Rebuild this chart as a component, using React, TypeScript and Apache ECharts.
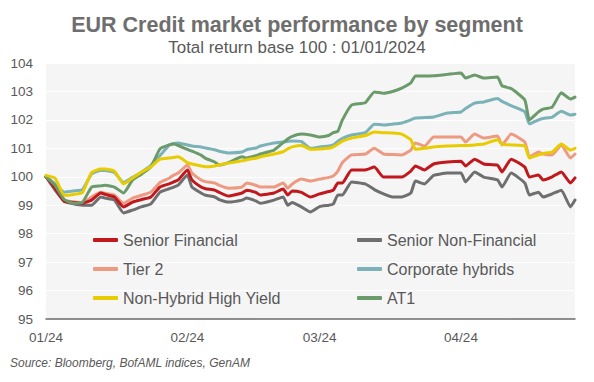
import React, { useEffect, useRef } from "react";
import * as echarts from "echarts";

const dates = [
  "2024-01-01", "2024-01-03", "2024-01-05", "2024-01-07", "2024-01-09", "2024-01-11", "2024-01-13", "2024-01-14", "2024-01-16", "2024-01-18",
  "2024-01-20", "2024-01-22", "2024-01-24", "2024-01-26", "2024-01-28", "2024-01-29", "2024-01-30", "2024-02-01", "2024-02-02", "2024-02-04",
  "2024-02-05", "2024-02-07", "2024-02-08", "2024-02-10", "2024-02-13", "2024-02-14", "2024-02-16", "2024-02-17", "2024-02-20", "2024-02-22",
  "2024-02-23", "2024-02-24", "2024-02-26", "2024-02-28", "2024-03-01", "2024-03-03", "2024-03-04", "2024-03-05", "2024-03-06", "2024-03-08",
  "2024-03-11", "2024-03-13", "2024-03-15", "2024-03-17", "2024-03-19", "2024-03-21", "2024-03-22", "2024-03-24", "2024-03-26", "2024-03-29",
  "2024-04-01", "2024-04-02", "2024-04-04", "2024-04-06", "2024-04-09", "2024-04-10", "2024-04-12", "2024-04-15", "2024-04-16", "2024-04-18",
  "2024-04-19", "2024-04-21", "2024-04-23", "2024-04-25", "2024-04-26",
];

const seniorFinancial = [
  100, 99.6, 99.14, 99.1, 99.07, 99.18, 99.43, 99.38, 99.29, 98.94,
  99.11, 99.2, 99.29, 99.64, 99.75, 99.82, 99.89, 100.24, 99.89, 99.64,
  99.58, 99.53, 99.45, 99.32, 99.43, 99.53, 99.45, 99.36, 99.43, 99.57,
  99.36, 99.5, 99.45, 99.29, 99.4, 99.48, 99.53, 99.78, 99.78, 100.24,
  100.24, 100.34, 99.99, 99.99, 99.99, 100.2, 100.38, 100.24, 100.45, 100.52,
  100.55, 100.38, 100.62, 100.45, 100.41, 100.17, 100.62, 100.34, 99.99, 100.06,
  99.89, 100.0, 100.17, 99.78, 99.96,
];

const seniorNonFinancial = [
  100, 99.53, 99.14, 99.05, 99.0, 99.0, 99.29, 99.25, 99.18, 98.73,
  98.83, 98.95, 99.05, 99.46, 99.58, 99.64, 99.71, 100.06, 99.64, 99.43,
  99.35, 99.29, 99.2, 99.11, 99.18, 99.25, 99.15, 99.07, 99.18, 99.29,
  99.0, 99.1, 98.94, 98.76, 98.95, 99.0, 99.04, 99.36, 99.36, 99.82,
  99.75, 99.55, 99.4, 99.29, 99.29, 99.43, 99.85, 99.75, 100.05, 100.13,
  100.13, 99.82, 100.17, 99.99, 99.89, 99.64, 100.13, 99.78, 99.36, 99.46,
  99.29, 99.4, 99.53, 98.94, 99.18,
];

const tier2 = [
  100, 99.64, 99.19, 99.12, 99.1, 99.29, 99.46, 99.42, 99.36, 99.07,
  99.25, 99.35, 99.46, 99.8, 99.95, 100.06, 100.13, 100.41, 100.13, 99.89,
  99.83, 99.78, 99.7, 99.6, 99.64, 99.78, 99.7, 99.64, 99.64, 99.78,
  99.6, 99.75, 99.92, 99.85, 99.92, 99.98, 100.03, 100.2, 100.5, 100.77,
  100.8, 101.0, 100.8, 100.78, 100.77, 100.94, 101.19, 101.08, 101.4, 101.4,
  101.4, 101.22, 101.5, 101.36, 101.43, 101.12, 101.5, 101.22, 100.7, 100.87,
  100.8, 100.77, 101.12, 100.66, 100.8,
];

const corporateHybrids = [
  100, 99.75, 99.46, 99.5, 99.55, 100.1, 100.22, 100.22, 100.15, 99.8,
  99.98, 100.17, 100.4, 100.75, 101.1, 101.17, 101.19, 101.12, 101.08, 101.05,
  101.01, 100.95, 100.9, 100.84, 100.87, 100.95, 101.01, 101.08, 101.19, 101.22,
  101.24, 101.26, 101.24, 101.0, 101.05, 101.08, 101.12, 101.25, 101.35, 101.47,
  101.55, 101.85, 101.82, 101.85, 101.89, 102.0, 102.07, 102.08, 102.1, 102.24,
  102.28, 102.4, 102.59, 102.63, 102.75, 102.65, 102.5, 102.28, 101.86, 102.0,
  102.05, 102.1, 102.3, 102.17, 102.2,
];

const nonHybridHighYield = [
  100.05, 99.95, 99.35, 99.38, 99.45, 100.15, 100.27, 100.27, 100.2, 99.75,
  99.96, 100.17, 100.35, 100.62, 100.66, 100.68, 100.7, 100.5, 100.45, 100.38,
  100.35, 100.38, 100.42, 100.48, 100.56, 100.6, 100.65, 100.7, 100.8, 100.88,
  100.98, 101.05, 101.1, 100.97, 100.98, 101.0, 101.05, 101.15, 101.25, 101.36,
  101.45, 101.57, 101.55, 101.54, 101.5, 101.3, 100.97, 101.0, 101.05, 101.08,
  101.1, 101.1, 101.12, 101.15, 101.3, 101.15, 101.12, 101.08, 100.66, 100.77,
  100.82, 100.87, 101.15, 100.94, 101.0,
];

const at1 = [
  100, 99.7, 99.2, 99.07, 99.1, 99.64, 99.68, 99.7, 99.64, 99.43,
  99.89, 100.1, 100.35, 100.98, 101.12, 101.15, 101.1, 100.96, 100.9, 100.76,
  100.65, 100.52, 100.41, 100.5, 100.7, 100.66, 100.74, 100.8, 100.94, 101.2,
  101.33, 101.42, 101.5, 101.47, 101.4, 101.45, 101.55, 101.6, 102.0, 102.52,
  102.6, 102.98, 102.94, 103.0, 103.12, 103.3, 103.54, 103.54, 103.55, 103.6,
  103.65, 103.47, 103.58, 103.47, 103.51, 103.2, 103.1, 102.7, 102.0, 102.28,
  102.38, 102.45, 102.95, 102.73, 102.8,
];

const monthTickDates = ["2024-01-01", "2024-02-01", "2024-03-01", "2024-04-01"];
const monthTickLabels = ["01/24", "02/24", "03/24", "04/24"];

const START = Date.parse("2024-01-01T00:00:00Z");
const dayOf = (s: string) => Math.round((Date.parse(s + "T00:00:00Z") - START) / 86400000);

const FONT = "'Liberation Sans', Arial, sans-serif";

export default function App() {
  const ref = useRef<HTMLDivElement>(null);
  useEffect(() => {
    document.body.style.margin = "0";
    if (!ref.current) return;
    const chart = echarts.init(ref.current, undefined, { renderer: "svg" });
    const days = dates.map(dayOf);
    const tickDays = monthTickDates.map(dayOf);
    const mk = (name: string, values: number[], color: string) => ({
      name,
      type: "line",
      data: values.map((v, i) => [days[i], v]),
      showSymbol: false,
      symbol: "none",
      smooth: 0.15,
      lineStyle: { color, width: 3, join: "round", cap: "round" },
      itemStyle: { color },
    });
    const series = [
      mk("Tier 2", tier2, "#ee9a82"),
      mk("Senior Non-Financial", seniorNonFinancial, "#6f6f6f"),
      mk("Senior Financial", seniorFinancial, "#c0181c"),
      mk("Corporate hybrids", corporateHybrids, "#7ab2b7"),
      mk("AT1", at1, "#6b9a6b"),
      mk("Non-Hybrid High Yield", nonHybridHighYield, "#e8cc00"),
    ];
    const legendCommon = {
      orient: "vertical",
      icon: "roundRect",
      itemWidth: 25,
      itemHeight: 4,
      itemGap: 9,
      padding: 0,
      textStyle: { fontFamily: FONT, fontSize: 16, color: "#595959", lineHeight: 20 },
      selectedMode: false,
    };
    chart.setOption({
      animation: false,
      backgroundColor: "#ffffff",
      title: {
        text: "EUR Credit market performance by segment",
        subtext: "Total return base 100 : 01/01/2024",
        left: "center",
        top: 9,
        itemGap: 3,
        textStyle: { fontFamily: FONT, fontSize: 21.5, fontWeight: "bold", color: "#6e6e6e" },
        subtextStyle: { fontFamily: FONT, fontSize: 16.9, color: "#595959" },
      },
      legend: [
        { ...legendCommon, left: 93, top: 230, data: ["Senior Financial", "Tier 2", "Non-Hybrid High Yield"] },
        { ...legendCommon, left: 357, top: 230, data: ["Senior Non-Financial", "Corporate hybrids", "AT1"] },
      ],
      grid: {
        left: 46,
        right: 19,
        top: 63,
        bottom: 63,
        show: true,
        backgroundColor: "#f5f5f5",
        borderWidth: 0,
        containLabel: false,
      },
      xAxis: {
        type: "value",
        min: 0,
        max: 116,
        axisLine: { show: true, lineStyle: { color: "#6b6b6b", width: 1.5 } },
        axisTick: { show: false },
        splitLine: { show: false },
        axisLabel: {
          customValues: tickDays,
          formatter: (v: number) => {
            const i = tickDays.indexOf(v);
            return i >= 0 ? monthTickLabels[i] : "";
          },
          fontFamily: FONT,
          fontSize: 13.5,
          color: "#595959",
          margin: 11,
        },
      },
      yAxis: {
        type: "value",
        min: 95,
        max: 104,
        interval: 1,
        axisLine: { show: false },
        axisTick: { show: false },
        splitLine: { show: true, lineStyle: { color: "#ffffff", width: 1.2 } },
        axisLabel: { fontFamily: FONT, fontSize: 13.5, color: "#595959", margin: 13 },
      },
      graphic: [
        {
          type: "text",
          left: 10,
          top: 357,
          style: {
            text: "Source: Bloomberg, BofAML indices, GenAM",
            font: "italic 12px 'Liberation Sans', Arial, sans-serif",
            fill: "#595959",
          },
        },
      ],
      series,
    });
    return () => chart.dispose();
  }, []);
  return <div ref={ref} style={{ width: 594, height: 382 }} />;
}
